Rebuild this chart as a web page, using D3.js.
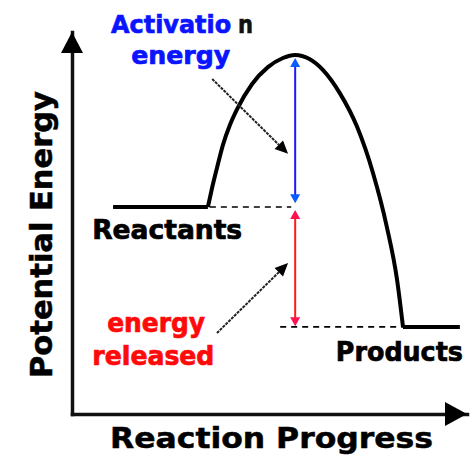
<!DOCTYPE html>
<html>
<head>
<meta charset="utf-8">
<script src="https://cdn.jsdelivr.net/npm/d3@7"></script>
<style>
  html, body { margin: 0; padding: 0; background: #fff; }
  svg { display: block; }
  text { font-family: "DejaVu Sans", Verdana, sans-serif; font-weight: bold; }
</style>
</head>
<body>
<script>
// ---- data (reaction progress 0-100, potential energy 0-100) ----
const reactantLine = [[10.4, 54.2], [34.4, 54.2]];
const barrierCurve = [
  [34.4, 54.2], [35.4, 58.9], [36.7, 64.4], [38.2, 70.4], [40.0, 75.7],
  [41.8, 79.8], [45.6, 86.4], [49.6, 90.8], [53.4, 93.2], [56.5, 94.0],
  [60.0, 93.0], [63.5, 90.1], [67.8, 84.0], [72.2, 75.1], [76.2, 63.1],
  [79.7, 49.0], [82.3, 35.1], [83.8, 22.8]
];
const productLine = [[83.8, 22.8], [98.2, 22.8]];
const reactantDash = [[34.9, 54.2], [55.5, 54.2]];
const productDash = [[52.7, 22.8], [83.8, 22.8]];
const activationArrow = [[56.5, 93.2], [56.5, 55.2]];
const releasedArrow = [[56.5, 53.4], [56.5, 23.0]];
const activationPointer = [[35.5, 87.7], [54.7, 68.1]];
const releasedPointer = [[36.7, 21.2], [54.7, 39.5]];
const labels = [
  { text: "Activatio", x: 9.9, y: 99.7, color: "#0a14ff", anchor: "start", size: 25, len: 120 },
  { text: "n", x: 42.0, y: 99.7, color: "#111", anchor: "start", size: 25, len: 15 },
  { text: "energy", x: 27.5, y: 91.75, color: "#0a14ff", anchor: "middle", size: 25, len: 99 },
  { text: "Reactants", x: 5.1, y: 45.8, color: "#000", anchor: "start", size: 26, len: 150 },
  { text: "energy", x: 21.3, y: 21.4, color: "#ff0a0a", anchor: "middle", size: 26, len: 98 },
  { text: "released", x: 20.6, y: 12.9, color: "#ff0a0a", anchor: "middle", size: 26, len: 122 },
  { text: "Products", x: 66.8, y: 13.9, color: "#000", anchor: "start", size: 26, len: 127 }
];
const xTitle = "Reaction Progress";
const yTitle = "Potential Energy";

// ---- scales ----
const W = 474, H = 462;
const x = d3.scaleLinear().domain([0, 100]).range([72, 467]);
const y = d3.scaleLinear().domain([0, 100]).range([414, 32]);

const svg = d3.select("body").append("svg").attr("width", W).attr("height", H);

// ---- axes ----
const xAxis = svg.append("g").attr("transform", `translate(0,${y(0)})`)
  .call(d3.axisBottom(x).tickValues([]).tickSizeOuter(0));
const yAxis = svg.append("g").attr("transform", `translate(${x(0)},0)`)
  .call(d3.axisLeft(y).tickValues([]).tickSizeOuter(0));
[xAxis, yAxis].forEach(g => g.select(".domain")
  .attr("stroke", "#111").attr("stroke-width", 3.5).attr("stroke-linecap", "square"));

// axis arrowheads
svg.append("path")
  .attr("d", `M${x(0)},${y(100)} L${x(0) - 11},${y(100) + 21} L${x(0) + 11},${y(100) + 21} Z`)
  .attr("fill", "#000");
svg.append("path")
  .attr("d", `M${x(100)},${y(0)} L${x(100) - 22},${y(0) - 12} L${x(100) - 22},${y(0) + 12} Z`)
  .attr("fill", "#000");

// ---- energy profile ----
const lin = d3.line().x(d => x(d[0])).y(d => y(d[1]));
const smooth = d3.line().x(d => x(d[0])).y(d => y(d[1])).curve(d3.curveMonotoneX);

svg.append("path").attr("d", lin(reactantLine)).attr("fill", "none")
  .attr("stroke", "#000").attr("stroke-width", 4);
svg.append("path").attr("d", smooth(barrierCurve)).attr("fill", "none")
  .attr("stroke", "#000").attr("stroke-width", 4).attr("stroke-linejoin", "round");
svg.append("path").attr("d", lin(productLine)).attr("fill", "none")
  .attr("stroke", "#000").attr("stroke-width", 4);

// dashed reference levels
[reactantDash, productDash].forEach(seg => {
  svg.append("path").attr("d", lin(seg)).attr("fill", "none")
    .attr("stroke", "#000").attr("stroke-width", 1.6).attr("stroke-dasharray", "6,5");
});

// ---- double arrows ----
function doubleArrow(seg, color, headColor) {
  const xa = x(seg[0][0]), y1 = y(seg[0][1]), y2 = y(seg[1][1]);
  svg.append("line").attr("x1", xa).attr("x2", xa).attr("y1", y1 + 4).attr("y2", y2 - 4)
    .attr("stroke", color).attr("stroke-width", 2);
  svg.append("path").attr("d", `M${xa},${y1} L${xa - 5},${y1 + 9} L${xa + 5},${y1 + 9} Z`).attr("fill", headColor);
  svg.append("path").attr("d", `M${xa},${y2} L${xa - 5},${y2 - 9} L${xa + 5},${y2 - 9} Z`).attr("fill", headColor);
}
doubleArrow(activationArrow, "#1a1aff", "#0a5cff");
doubleArrow(releasedArrow, "#ff1a1a", "#ff1050");

// ---- pointer arrows ----
function pointer(seg) {
  const x1 = x(seg[0][0]), y1 = y(seg[0][1]), x2 = x(seg[1][0]), y2 = y(seg[1][1]);
  const ang = Math.atan2(y2 - y1, x2 - x1);
  const L = 13, Wd = 6;
  const bx = x2 - L * Math.cos(ang), by = y2 - L * Math.sin(ang);
  svg.append("line").attr("x1", x1).attr("y1", y1).attr("x2", bx).attr("y2", by)
    .attr("stroke", "#222").attr("stroke-width", 2).attr("stroke-dasharray", "3,1");
  const px = -Math.sin(ang) * Wd, py = Math.cos(ang) * Wd;
  svg.append("path").attr("d", `M${x2},${y2} L${bx + px},${by + py} L${bx - px},${by - py} Z`).attr("fill", "#000");
}
pointer(activationPointer);
pointer(releasedPointer);

// ---- labels ----
labels.forEach(l => {
  svg.append("text").attr("x", x(l.x)).attr("y", y(l.y))
    .attr("text-anchor", l.anchor).attr("font-size", l.size).attr("fill", l.color)
    .attr("stroke", l.color).attr("stroke-width", 0.7)
    .attr("textLength", l.len).attr("lengthAdjust", "spacingAndGlyphs")
    .text(l.text);
});

// axis titles
svg.append("text").attr("x", 110).attr("y", 448)
  .attr("font-size", 28).attr("fill", "#000").attr("stroke", "#000").attr("stroke-width", 0.5)
  .attr("textLength", 323).attr("lengthAdjust", "spacingAndGlyphs").text(xTitle);
svg.append("text").attr("transform", "translate(52,378) rotate(-90)")
  .attr("font-size", 31).attr("fill", "#000").attr("stroke", "#000").attr("stroke-width", 0.5)
  .attr("textLength", 287).attr("lengthAdjust", "spacingAndGlyphs").text(yTitle);
</script>
</body>
</html>
